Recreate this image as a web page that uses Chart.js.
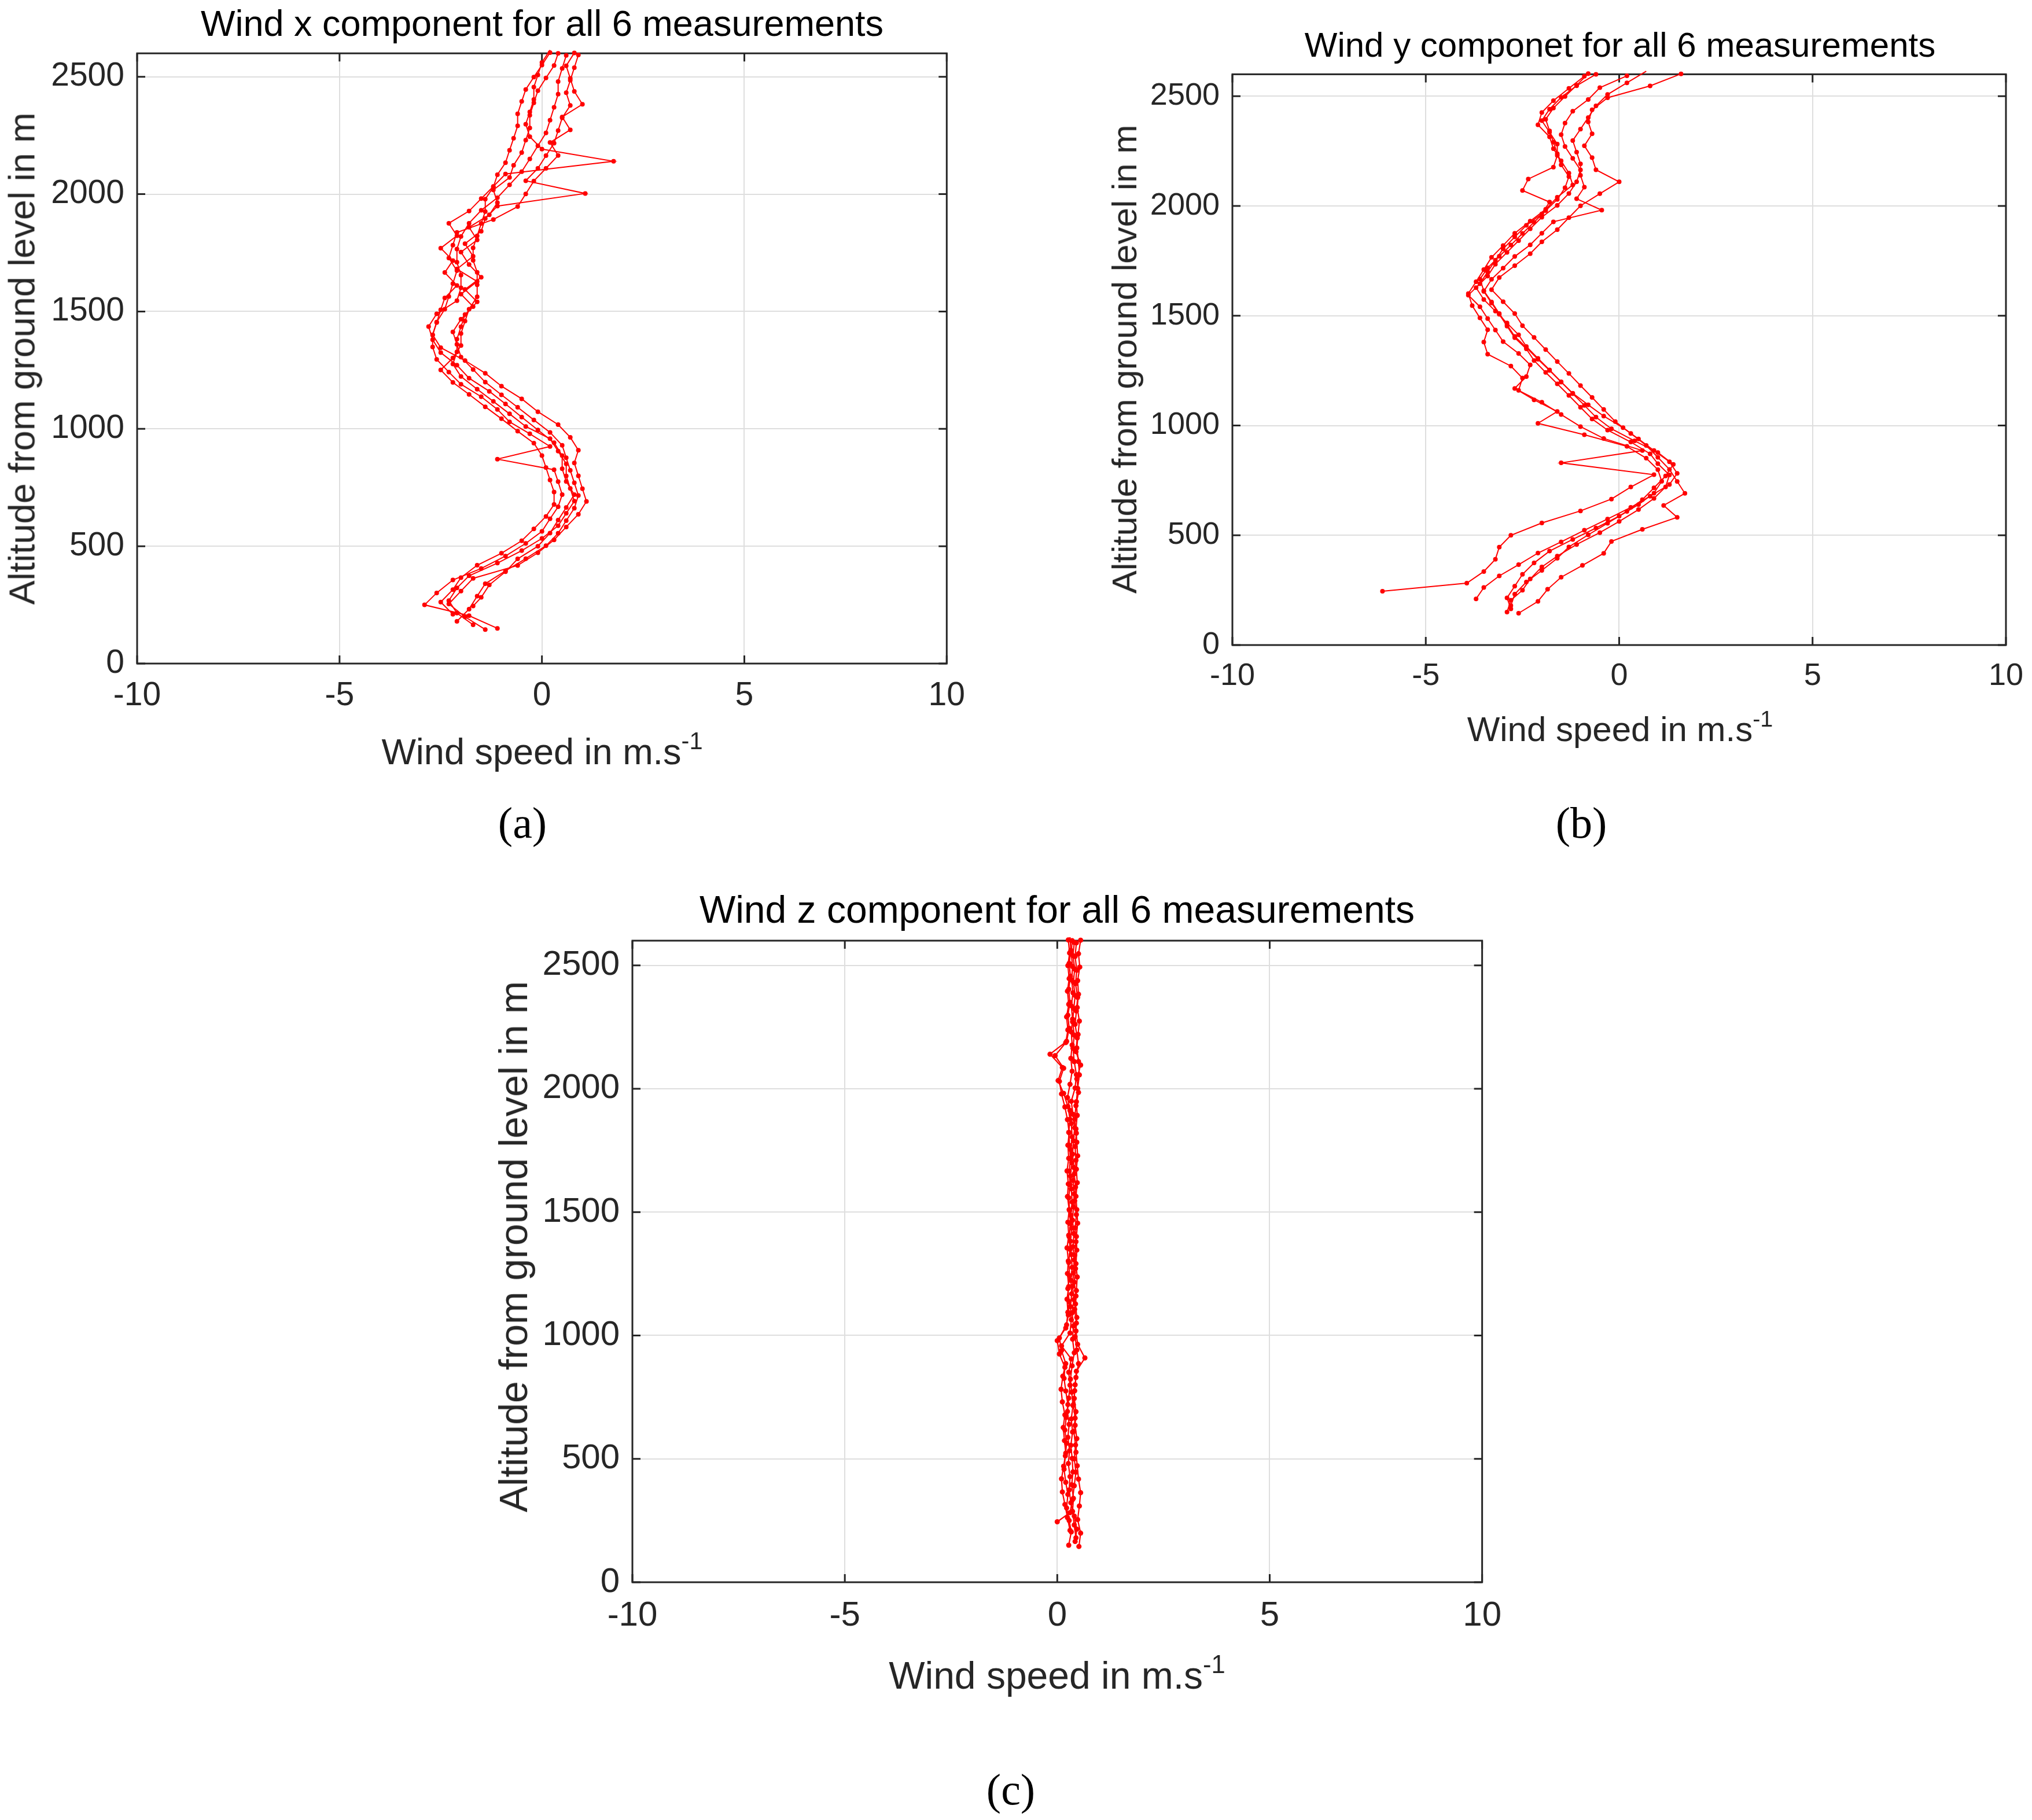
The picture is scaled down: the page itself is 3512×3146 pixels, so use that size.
<!DOCTYPE html>
<html>
<head>
<meta charset="utf-8">
<script src="https://cdn.jsdelivr.net/npm/chart.js@4.4.1/dist/chart.umd.min.js"></script>
<style>
html, body { margin:0; padding:0; background:#fff; overflow:hidden; }
#page { position:relative; width:3512px; height:3146px; background:#fff; overflow:hidden; }
canvas { position:absolute; }
.txt { position:absolute; transform:translate(-50%,-50%); white-space:nowrap; font-family:"Liberation Sans", Arial, sans-serif; color:#262626; line-height:1; }
.ttl { color:#000; }
.ylab { transform:translate(-50%,-50%) rotate(-90deg); }
.sub { font-family:"Liberation Serif", serif; color:#000; }
sup { font-size:0.66em; vertical-align:0.62em; line-height:0; }
</style>
</head>
<body>
<div id="page">
  <canvas id="ca"></canvas>
  <canvas id="cb"></canvas>
  <canvas id="cc"></canvas>

  <div class="txt ttl" style="left:937px;top:40px;font-size:63px;">Wind x component for all 6 measurements</div>
  <div class="txt ylab" style="left:38px;top:620px;font-size:63px;">Altitude from ground level in m</div>
  <div class="txt" style="left:937px;top:1299px;font-size:63px;">Wind speed in m.s<sup>-1</sup></div>
  <div class="txt sub" style="left:903px;top:1422px;font-size:76px;">(a)</div>

  <div class="txt ttl" style="left:2800px;top:78px;font-size:60px;">Wind y componet for all 6 measurements</div>
  <div class="txt ylab" style="left:1944px;top:621px;font-size:60px;">Altitude from ground level in m</div>
  <div class="txt" style="left:2800px;top:1261px;font-size:60px;">Wind speed in m.s<sup>-1</sup></div>
  <div class="txt sub" style="left:2733px;top:1422px;font-size:76px;">(b)</div>

  <div class="txt ttl" style="left:1827px;top:1572px;font-size:66px;">Wind z component for all 6 measurements</div>
  <div class="txt ylab" style="left:887px;top:2155px;font-size:68px;">Altitude from ground level in m</div>
  <div class="txt" style="left:1827px;top:2896px;font-size:66px;">Wind speed in m.s<sup>-1</sup></div>
  <div class="txt sub" style="left:1747px;top:3093px;font-size:76px;">(c)</div>
</div>
<script>
// altitudes (m) of the 6 soundings
var alt1 = [145,199,254,309,363,418,472,527,582,636,691,745,800,855,909,964,1018,1073,1128,1182,1237,1291,1346,1401,1455,1510,1564,1619,1674,1728,1783,1837,1892,1947,2001,2056,2110,2165,2220,2274,2329,2383,2438,2493,2547,2602];
var alt2 = [150,204,250,301,356,405,458,512,563,617,668,720,775,826,871,925,979,1030,1083,1137,1190,1242,1296,1349,1400,1453,1507,1558,1611,1666,1717,1770,1823,1876,1928,1981,2033,2086,2140,2192,2245,2298,2350,2403,2456,2508,2561,2614];
var alt3 = [180,232,287,340,395,447,502,555,609,662,716,770,823,877,930,985,1038,1092,1145,1199,1253,1306,1360,1413,1467,1521,1574,1628,1681,1735,1789,1842,1896,1949,2003,2057,2110,2164,2217,2271,2325,2378,2432,2485,2539,2593];
var alt4 = [210,262,315,366,419,470,523,574,627,678,731,782,835,886,939,990,1043,1094,1147,1198,1251,1302,1355,1406,1459,1510,1563,1614,1667,1718,1771,1822,1875,1926,1979,2030,2083,2134,2187,2238,2291,2342,2395,2446,2499,2550,2603];
var alt5 = [245,282,335,391,446,500,556,611,665,720,776,830,886,941,995,1050,1106,1160,1216,1271,1325,1380,1436,1490,1546,1601,1655,1710,1766,1820,1876,1931,1985,2040,2096,2150,2206,2261,2315,2370,2426,2480,2536,2591];
var alt6 = [165,215,268,322,374,428,481,533,587,640,692,746,799,851,905,958,1010,1064,1117,1169,1223,1276,1328,1382,1435,1487,1541,1594,1646,1700,1753,1805,1859,1912,1964,2018,2071,2123,2177,2230,2282,2336,2389,2441,2495,2548,2600];

// wind x component (m/s)
var windX1 = [-1.4,-1.9,-2.3,-2.0,-1.7,-0.6,-0.1,0.3,0.6,0.9,1.1,1.0,0.9,0.8,0.9,0.7,0.4,-0.1,-0.5,-1.0,-1.4,-1.9,-2.5,-2.7,-2.6,-2.4,-2.3,-2.2,-2.1,-2.3,-2.2,-2.1,-1.2,-0.6,-0.4,-0.2,0.1,0.4,0.2,0.7,0.5,1.0,0.8,0.7,0.6,0.8];
var windX2 = [-1.1,-1.8,-2.9,-2.6,-2.2,-1.5,-0.9,-0.4,0.0,0.2,0.4,0.5,0.4,0.3,-1.1,0.2,-0.3,-0.8,-1.1,-1.5,-2.0,-2.3,-2.6,-2.7,-2.7,-2.6,-2.5,-2.4,-2.1,-2.4,-2.2,-2.5,-2.1,-2.3,-1.8,-1.5,-1.2,-0.9,1.77,0.0,-0.3,-0.4,-0.3,-0.2,-0.2,-0.1,0.0,0.2];
var windX3 = [-2.1,-1.8,-1.6,-1.4,-0.9,-0.4,0.1,0.4,0.6,0.8,0.9,0.8,0.7,0.6,0.5,0.2,-0.2,-0.6,-1.0,-1.4,-1.7,-2.0,-2.1,-2.2,-2.0,-1.7,-2.0,-1.6,-2.1,-1.7,-1.9,-1.5,-1.4,-1.1,1.07,-0.4,-0.1,0.1,0.3,0.4,0.5,0.7,0.6,0.7,0.8,0.9];
var windX4 = [-2.2,-2.5,-2.2,-2.0,-1.6,-1.0,-0.5,-0.2,0.1,0.3,0.3,0.2,0.1,0.0,-0.2,-0.6,-1.0,-1.4,-1.8,-2.2,-2.5,-2.2,-2.0,-2.0,-1.9,-1.8,-1.6,-1.6,-1.6,-1.7,-1.7,-1.6,-1.5,-1.4,-1.4,-1.2,-1.1,-0.9,-0.8,-0.7,-0.6,-0.6,-0.5,-0.4,-0.2,0.0,0.2];
var windX5 = [-1.7,-1.5,-1.3,-0.9,-0.6,-0.1,0.2,0.4,0.6,0.8,0.6,0.5,0.5,0.3,-0.1,-0.5,-0.9,-1.3,-1.8,-2.1,-2.5,-2.7,-2.8,-2.6,-2.1,-2.0,-2.0,-2.1,-2.1,-2.0,-1.8,-1.5,-1.1,-0.8,-0.5,-0.3,-0.1,0.1,0.2,0.3,0.4,0.4,0.5,0.6];
var windX6 = [-1.7,-2.1,-2.3,-2.1,-1.8,-1.1,-0.5,0.0,0.4,0.6,0.8,0.7,0.6,0.6,0.4,0.2,-0.4,-0.8,-1.2,-1.6,-2.0,-2.2,-2.1,-2.1,-2.0,-1.9,-1.6,-1.9,-1.5,-1.8,-2.0,-1.6,-1.8,-1.3,-1.1,-1.2,-0.8,-0.7,-0.5,-0.4,-0.3,-0.3,-0.2,-0.1,0.1,0.3,0.4];

// wind y component (m/s)
var windY1 = [-2.6,-2.1,-1.85,-1.5,-0.95,-0.4,-0.2,0.6,1.5,1.15,1.7,1.5,1.3,1.0,0.7,0.3,-0.1,-0.4,-0.7,-1.0,-1.3,-1.6,-1.9,-2.2,-2.5,-2.7,-3.0,-3.3,-3.1,-2.7,-2.3,-2.0,-1.6,-1.3,-1.0,-0.5,0.0,-0.6,-0.7,-0.9,-0.7,-0.8,-0.7,-0.3,0.8,1.6];
var windY2 = [-2.9,-2.8,-2.5,-2.3,-2.0,-1.6,-1.1,-0.5,0.0,0.5,0.9,1.2,1.3,1.0,0.8,0.3,-0.3,-0.7,-1.0,-1.3,-1.6,-1.9,-2.2,-2.4,-2.7,-2.9,-3.1,-3.3,-3.5,-3.3,-3.0,-2.7,-2.3,-2.0,-1.7,-0.45,-1.1,-0.9,-1.0,-1.0,-1.1,-1.2,-1.0,-0.8,-0.6,-0.3,0.2,0.7];
var windY3 = [-2.8,-2.7,-2.4,-2.0,-1.6,-1.3,-0.8,-0.3,0.2,0.6,0.9,1.2,1.4,1.0,0.4,-0.2,-0.6,-0.9,-1.2,-1.5,-1.8,-2.1,-2.4,-2.6,-2.9,-3.2,-3.5,-3.7,-3.4,-3.2,-2.9,-2.6,-2.3,-2.0,-1.6,-1.3,-1.1,-1.0,-1.2,-1.4,-1.5,-1.4,-1.2,-0.8,-0.5,0.2];
var windY4 = [-3.7,-3.5,-3.1,-2.6,-2.1,-1.5,-0.9,-0.3,0.3,0.8,1.3,1.5,1.3,0.9,0.5,0.1,-0.4,-0.8,-1.2,-1.5,-1.8,-2.1,-2.4,-2.7,-2.9,-3.1,-3.3,-3.5,-3.6,-3.4,-3.1,-2.8,-2.5,-2.2,-1.9,-1.6,-1.4,-1.3,-1.5,-1.6,-1.7,-1.8,-1.9,-1.7,-1.4,-1.1,-0.8];
var windY5 = [-6.12,-3.94,-3.5,-3.2,-3.1,-2.8,-2.0,-1.0,-0.2,0.3,0.9,-1.5,0.6,-0.4,-1.0,-1.5,-2.0,-2.6,-2.5,-2.8,-3.4,-3.5,-3.4,-3.6,-3.8,-3.9,-3.7,-3.5,-3.3,-3.0,-2.7,-2.3,-1.9,-1.6,-1.2,-1.3,-1.5,-1.7,-1.8,-2.1,-2.0,-1.7,-1.3,-0.9];
var windY6 = [-2.8,-2.9,-2.7,-2.5,-2.2,-1.8,-1.2,-0.6,0.0,0.5,0.9,1.1,1.0,0.7,0.2,-0.9,-2.1,-1.6,-2.2,-2.7,-2.4,-2.3,-2.6,-3.0,-3.2,-3.4,-3.6,-3.9,-3.6,-3.4,-3.2,-3.0,-2.7,-2.4,-2.0,-1.8,-2.5,-2.35,-1.7,-1.6,-1.6,-1.8,-2.0,-1.8,-1.5,-1.1,-0.6];

// wind z component (m/s)
var windZ1 = [0.51,0.55,0.48,0.52,0.55,0.50,0.47,0.44,0.46,0.42,0.44,0.40,0.42,0.45,0.65,0.48,0.44,0.46,0.43,0.45,0.47,0.44,0.46,0.45,0.48,0.46,0.44,0.47,0.45,0.48,0.46,0.44,0.47,0.45,0.48,0.52,0.50,0.46,0.49,0.52,0.47,0.50,0.48,0.53,0.50,0.55];
var windZ2 = [0.27,0.33,0.28,0.22,0.25,0.20,0.16,0.19,0.22,0.18,0.21,0.25,0.20,0.16,0.18,0.05,0.00,0.20,0.26,0.28,0.25,0.29,0.27,0.30,0.28,0.31,0.29,0.27,0.30,0.28,0.31,0.29,0.27,0.30,0.25,0.15,0.02,0.12,-0.17,0.22,0.28,0.25,0.30,0.27,0.31,0.28,0.32,0.30];
var windZ3 = [0.44,0.40,0.36,0.38,0.34,0.37,0.35,0.32,0.36,0.33,0.37,0.34,0.31,0.35,0.40,0.36,0.38,0.35,0.39,0.36,0.38,0.40,0.37,0.39,0.36,0.38,0.40,0.37,0.39,0.36,0.38,0.41,0.37,0.33,0.42,0.45,0.40,0.37,0.40,0.36,0.39,0.42,0.38,0.41,0.37,0.40];
var windZ4 = [0.30,0.24,0.18,0.12,0.10,0.15,0.20,0.17,0.14,0.18,0.12,0.09,0.13,0.20,0.10,0.05,0.22,0.25,0.23,0.27,0.24,0.26,0.23,0.27,0.25,0.28,0.24,0.26,0.23,0.27,0.25,0.28,0.24,0.18,0.10,0.05,0.15,-0.05,0.20,0.25,0.22,0.27,0.24,0.28,0.25,0.29,0.26];
var windZ5 = [0.00,0.30,0.36,0.40,0.44,0.40,0.43,0.39,0.42,0.38,0.41,0.44,0.50,0.46,0.42,0.45,0.41,0.44,0.40,0.43,0.41,0.44,0.42,0.45,0.41,0.43,0.40,0.44,0.42,0.45,0.41,0.44,0.50,0.46,0.55,0.44,0.47,0.42,0.45,0.48,0.43,0.46,0.42,0.45];
var windZ6 = [0.42,0.46,0.40,0.32,0.28,0.30,0.26,0.29,0.25,0.28,0.24,0.27,0.30,0.27,0.33,0.10,0.30,0.33,0.31,0.34,0.32,0.35,0.33,0.31,0.34,0.32,0.35,0.33,0.31,0.34,0.32,0.35,0.33,0.30,0.24,0.30,0.35,0.32,0.35,0.33,0.36,0.33,0.37,0.34,0.36,0.33,0.35];

// axis ticks
var speedTicks = [-10, -5, 0, 5, 10];
var altTicks = [0, 500, 1000, 1500, 2000, 2500];
var speedRange = [-10, 10];
var altRange = [0, 2600];

var alts = [alt1, alt2, alt3, alt4, alt5, alt6];

// inward ticks on all four sides plus the axes box, like the original
var boxTicks = {
  id: 'boxTicks',
  beforeDatasetsDraw: function(chart) {
    var ctx = chart.ctx, a = chart.chartArea;
    var xs = chart.scales.x, ys = chart.scales.y;
    var len = 14;
    ctx.save();
    ctx.strokeStyle = '#262626';
    ctx.lineWidth = 3;
    ctx.strokeRect(a.left, a.top, a.right - a.left, a.bottom - a.top);
    ctx.beginPath();
    xs.ticks.forEach(function(t) {
      var p = xs.getPixelForValue(t.value);
      ctx.moveTo(p, a.bottom); ctx.lineTo(p, a.bottom - len);
      ctx.moveTo(p, a.top); ctx.lineTo(p, a.top + len);
    });
    ys.ticks.forEach(function(t) {
      var p = ys.getPixelForValue(t.value);
      ctx.moveTo(a.left, p); ctx.lineTo(a.left + len, p);
      ctx.moveTo(a.right, p); ctx.lineTo(a.right - len, p);
    });
    ctx.stroke();
    ctx.restore();
  }
};

function makeSets(vals, r, lw) {
  var sets = [];
  for (var k = 0; k < alts.length; k++) {
    var pts = [];
    for (var i = 0; i < alts[k].length; i++) {
      pts.push({ x: vals[k][i], y: alts[k][i] });
    }
    sets.push({
      data: pts,
      showLine: true,
      borderColor: '#ff0000',
      backgroundColor: '#ff0000',
      pointBackgroundColor: '#ff0000',
      pointBorderWidth: 0,
      pointRadius: r,
      borderWidth: lw,
      tension: 0,
      clip: 8
    });
  }
  return sets;
}

function setTicks(values) {
  return function(scale) {
    scale.ticks = values.map(function(v) { return { value: v }; });
  };
}

var YW = 220, PT = 30, PR = 40, XH = 130;

function config(vals, tickSize, r, lw) {
  var font = { family: '"Liberation Sans", Arial, sans-serif', size: tickSize };
  return {
    type: 'scatter',
    data: { datasets: makeSets(vals, r, lw) },
    options: {
      responsive: false,
      maintainAspectRatio: false,
      animation: false,
      devicePixelRatio: 1,
      layout: { padding: { left: 0, top: PT, right: PR, bottom: 0 } },
      plugins: { legend: { display: false }, tooltip: { enabled: false }, title: { display: false } },
      scales: {
        x: {
          type: 'linear',
          min: speedRange[0], max: speedRange[1],
          afterBuildTicks: setTicks(speedTicks),
          ticks: { font: font, color: '#262626', padding: 22, maxRotation: 0, autoSkip: false,
                   callback: function(v) { return String(v); } },
          grid: { color: '#dedede', lineWidth: 2, drawTicks: false },
          border: { display: false },
          afterFit: function(s) { s.height = XH; }
        },
        y: {
          type: 'linear',
          min: altRange[0], max: altRange[1],
          afterBuildTicks: setTicks(altTicks),
          ticks: { font: font, color: '#262626', padding: 22, autoSkip: false,
                   callback: function(v) { return String(v); } },
          grid: { color: '#dedede', lineWidth: 2, drawTicks: false },
          border: { display: false },
          afterFit: function(s) { s.width = YW; }
        }
      }
    },
    plugins: [boxTicks]
  };
}

// draw once, measure the plot box, then redraw so the box lands on L,T,R,B
function drawPanel(id, L, T, R, B, tickSize, vals, r, lw) {
  var cv = document.getElementById(id);
  cv.width = (R - L) + YW + PR;
  cv.height = (B - T) + PT + XH;
  var ch = new Chart(cv, config(vals, tickSize, r, lw));
  var a = ch.chartArea;
  var w = cv.width + (R - L) - (a.right - a.left);
  var h = cv.height + (B - T) - (a.bottom - a.top);
  ch.destroy();
  cv.width = w;
  cv.height = h;
  ch = new Chart(cv, config(vals, tickSize, r, lw));
  a = ch.chartArea;
  cv.style.left = (L - a.left) + 'px';
  cv.style.top = (T - a.top) + 'px';
}

drawPanel('ca', 237, 92, 1637, 1147, 57, [windX1, windX2, windX3, windX4, windX5, windX6], 4, 2);
drawPanel('cb', 2130, 128, 3467, 1115, 54, [windY1, windY2, windY3, windY4, windY5, windY6], 4, 2);
drawPanel('cc', 1093, 1626, 2562, 2735, 60, [windZ1, windZ2, windZ3, windZ4, windZ5, windZ6], 4.5, 2.2);
</script>
</body>
</html>
